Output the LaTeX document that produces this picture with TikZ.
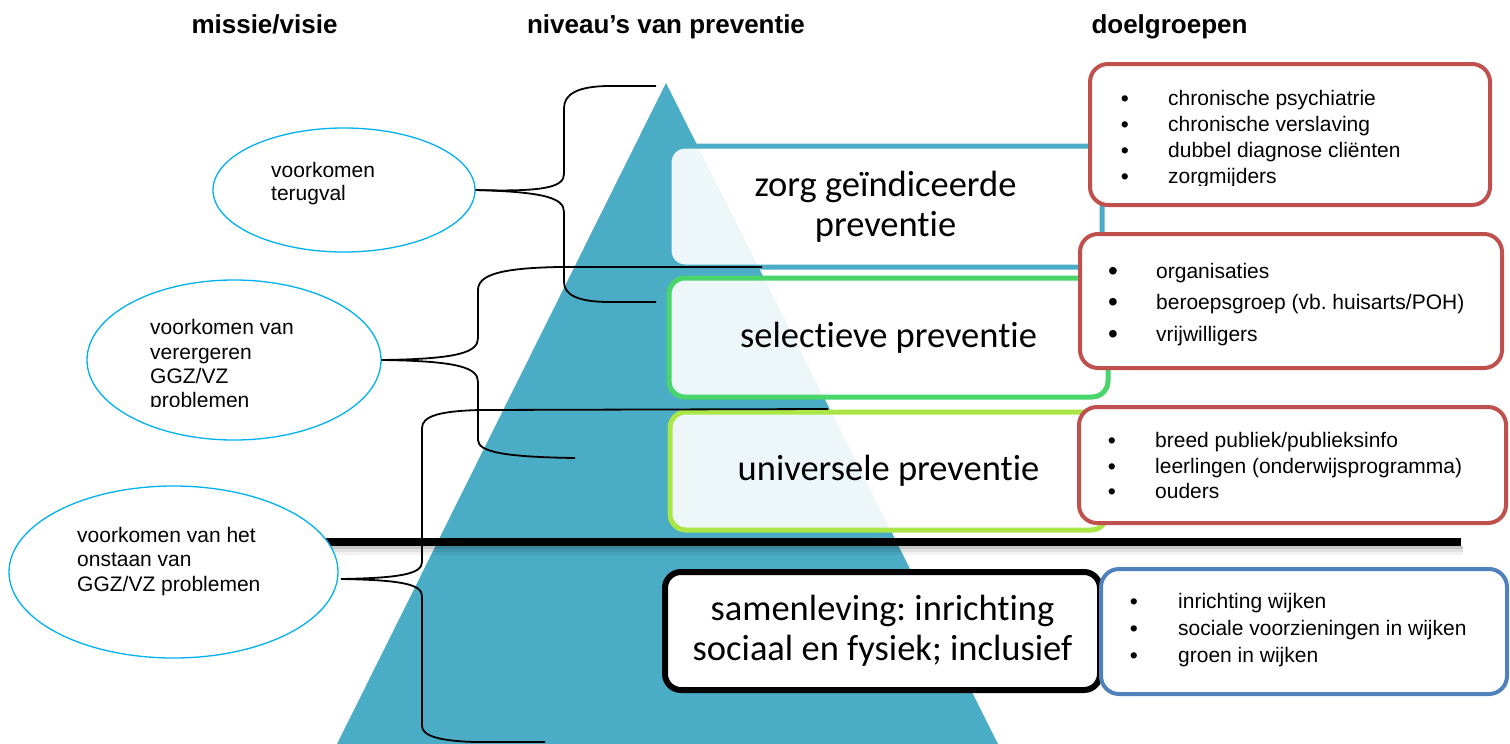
\documentclass[tikz,border=0pt]{standalone}
\usepackage{fontspec}
\setmainfont{Liberation Sans}
\newfontfamily\calfont[RawFeature={-liga,-clig,-dlig}]{Carlito}
\usetikzlibrary{shapes.geometric,calc}
\definecolor{tealc}{HTML}{4BACC6}
\definecolor{greenc}{HTML}{4AD46C}
\definecolor{lgreenc}{HTML}{AAE646}
\definecolor{redc}{HTML}{C0504D}
\definecolor{bluec}{HTML}{4F81BD}
\definecolor{ellc}{HTML}{00B0F0}
\frenchspacing
\tikzset{
  levelbox/.style={rounded corners=16pt, line width=5pt, fill=white, fill opacity=0.9, text opacity=1,
    align=center, font=\calfont\fontsize{36.5}{40}\selectfont, inner sep=0pt},
  groupbox/.style={rounded corners=18pt, line width=4pt, fill=white, inner sep=0pt},
  ell/.style={ellipse, draw=ellc, line width=1.3pt, fill=white, inner sep=0pt},
  etxt/.style={anchor=base west, inner sep=0pt, font=\fontsize{21}{25}\selectfont},
  btxt/.style={anchor=base west, inner sep=0pt, font=\fontsize{21}{25}\selectfont},
  bdot/.style={anchor=base, inner sep=0pt, font=\fontsize{23}{25}\selectfont},
  bdotbig/.style={anchor=base, inner sep=0pt, font=\fontsize{28}{25}\selectfont},
  ttl/.style={anchor=base, inner sep=0pt, font=\bfseries\fontsize{26}{30}\selectfont},
  brace/.style={draw=black, line width=1.8pt, line join=round}
}
\begin{document}
\frenchspacing
\begin{tikzpicture}[x=1pt,y=-1pt]
\useasboundingbox (0,0) rectangle (1510,744);

% titles
\node[ttl] (t1) at (264.5,33) {missie/visie};
\node[ttl] (t2) at (666,33) {niveau’s van preventie};
\node[ttl] (t3) at (1169.5,33) {doelgroepen};

% pyramid
\fill[tealc] (666,83) -- (998,744) -- (337,744) -- cycle;

% level boxes
\node[levelbox, draw=tealc, minimum width=433pt, minimum height=121pt] (lv1) at (885.5,206.5) {zorg geïndiceerde\\preventie};
\node[levelbox, draw=greenc, minimum width=439pt, minimum height=119pt] (lv2) at (888.5,337.5) {selectieve preventie};
\node[levelbox, draw=lgreenc, minimum width=437pt, minimum height=118pt] (lv3) at (888.5,471) {universele preventie};
\node[levelbox, draw=black, line width=6pt, fill opacity=1, minimum width=435pt, minimum height=118pt] (lv4) at (882.5,631) {samenleving: inrichting\\sociaal en fysiek; inclusief};

% separator line with shadow
\draw[line width=3pt, black, opacity=0.22] (328,547.5) -- (1463,547.5);
\draw[line width=3pt, black, opacity=0.12] (328,550.5) -- (1463,550.5);
\draw[line width=3pt, black, opacity=0.05] (328,553.5) -- (1463,553.5);
\draw[line width=8pt] (326,542) -- (1461,542);

% target group boxes
\node[groupbox, draw=redc, minimum width=400pt, minimum height=141pt] (gA) at (1290,134.5) {};
\node[groupbox, draw=redc, minimum width=422pt, minimum height=134pt] (gB) at (1291,301) {};
\node[groupbox, draw=redc, minimum width=427pt, minimum height=116pt] (gC) at (1292.5,465) {};
\node[groupbox, draw=bluec, minimum width=406pt, minimum height=125pt] (gD) at (1304,631.5) {};

% box A texts (clipped)
\begin{scope}
\clip (1095,68) rectangle (1485,185);
\node[bdot] (a1d) at (1125,106) {•}; \node[btxt] (a1) at (1168,105) {chronische psychiatrie};
\node[bdot] (a2d) at (1125,132) {•}; \node[btxt] (a2) at (1168,131) {chronische verslaving};
\node[bdot] (a3d) at (1125,158) {•}; \node[btxt] (a3) at (1168,157) {dubbel diagnose cliënten};
\node[bdot] (a4d) at (1125,184) {•}; \node[btxt] (a4) at (1168,183) {zorgmijders};
\end{scope}

% box B texts
\node[bdotbig] (b1d) at (1113,280) {•}; \node[btxt] (b1) at (1156,278) {organisaties};
\node[bdotbig] (b2d) at (1113,311) {•}; \node[btxt] (b2) at (1156,309) {beroepsgroep (vb. huisarts/POH)};
\node[bdotbig] (b3d) at (1113,343) {•}; \node[btxt] (b3) at (1156,341) {vrijwilligers};

% box C texts
\node[bdot] (c1d) at (1112,448) {•}; \node[btxt] (c1) at (1155,447) {breed publiek/publieksinfo};
\node[bdot] (c2d) at (1112,474) {•}; \node[btxt] (c2) at (1155,473) {leerlingen (onderwijsprogramma)};
\node[bdot] (c3d) at (1112,499) {•}; \node[btxt] (c3) at (1155,498) {ouders};

% box D texts
\node[bdot] (d1d) at (1134,609) {•}; \node[btxt] (d1) at (1178,608) {inrichting wijken};
\node[bdot] (d2d) at (1134,636) {•}; \node[btxt] (d2) at (1178,635) {sociale voorzieningen in wijken};
\node[bdot] (d3d) at (1134,663) {•}; \node[btxt] (d3) at (1178,662) {groen in wijken};

% ellipses
\node[ell, minimum width=262pt, minimum height=124pt] (e1) at (344,190) {};
\node[ell, minimum width=294pt, minimum height=160pt] (e2) at (234,360) {};
\node[ell, minimum width=329pt, minimum height=172pt] (e3) at (173.5,572) {};

\node[etxt] (e1a) at (271,177) {voorkomen};
\node[etxt] (e1b) at (271,200) {terugval};

\begin{scope}
\clip (90,300) rectangle (380,406);
\node[etxt] (e2a) at (150,334) {voorkomen van};
\node[etxt] (e2b) at (150,359) {verergeren};
\node[etxt] (e2c) at (150,383) {GGZ/VZ};
\node[etxt] (e2d) at (150,407) {problemen};
\end{scope}

\node[etxt] (e3a) at (77,542) {voorkomen van het};
\node[etxt] (e3b) at (77,566) {onstaan van};
\node[etxt] (e3c) at (77,591) {GGZ/VZ problemen};

% brace end points
\coordinate (b1top) at (656,86);
\coordinate (b1bot) at (656,302);
\coordinate (b2top) at (762,267);
\coordinate (b2bot) at (575,458);
\coordinate (b3top) at (828,409);
\coordinate (b3bot) at (545,742);
\coordinate (tip3) at (341,579);

% brace 1
\draw[brace] (b1top) -- (610,86) .. controls (578,86) and (564,94) .. (564,108)
  -- (564,174) .. controls (564,187) and (545,192) .. (e1.east);
\draw[brace] (e1.east) .. controls (545,192) and (564,198) .. (564,212)
  -- (564,282) .. controls (564,295) and (578,302) .. (610,302) -- (b1bot);
% brace 2
\draw[brace] (b2top) -- (560,267) .. controls (500,268) and (478,275) .. (478,290)
  -- (478,338) .. controls (478,352) and (460,359) .. (e2.east);
\draw[brace] (e2.east) .. controls (460,361) and (478,368) .. (478,382)
  -- (478,440) .. controls (478,452) and (505,457) .. (b2bot);
% brace 3
\draw[brace] (b3top) -- (480,410) .. controls (440,411) and (422,416) .. (422,428)
  -- (422,562) .. controls (422,574) and (400,578) .. (tip3);
\draw[brace] (tip3) .. controls (400,580) and (422,584) .. (422,596)
  -- (422,726) .. controls (422,736) and (440,741) .. (475,742) -- (b3bot);
\end{tikzpicture}
\end{document}
